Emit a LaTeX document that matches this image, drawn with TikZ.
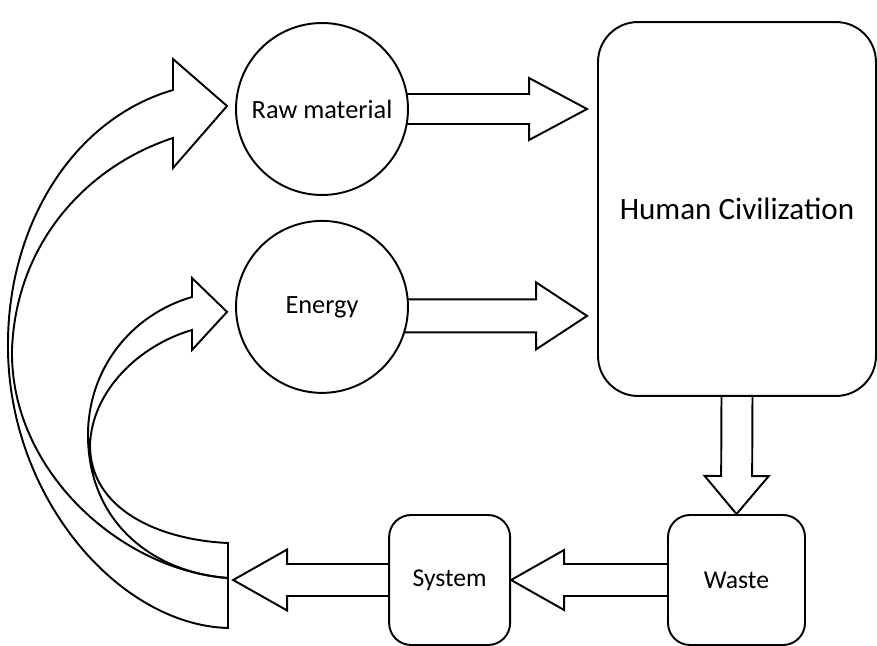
\documentclass[tikz,border=0pt]{standalone}
\usepackage{fontspec}
\setmainfont{Carlito}
\usetikzlibrary{calc, positioning, backgrounds}

% hollow block arrow: from, to, shaft half width, head half width, head length
\newcommand{\fatarrow}[5]{%
  \coordinate (fa-c) at ($(#2)!#5!(#1)$);
  \draw[fatline] ($(#1)!#3!90:(#2)$) -- ($(fa-c)!#3!-90:(#1)$)
    -- ($(fa-c)!#4!-90:(#1)$) -- (#2) -- ($(fa-c)!#4!90:(#1)$)
    -- ($(fa-c)!#3!90:(#1)$) -- ($(#1)!#3!-90:(#2)$);
}

\begin{document}
\begin{tikzpicture}[x=0.02cm,y=-0.02cm,line width=1.1pt,
    fatline/.style={draw=black,line width=1.1pt,line join=miter},
    round/.style={circle,draw,fill=white,minimum size=3.44cm,inner sep=0pt,font=\fontsize{15}{18}\selectfont},
    bigbox/.style={rectangle,draw,fill=white,rounded corners=0.8cm,minimum width=5.56cm,minimum height=7.48cm,font=\fontsize{17.7}{21}\selectfont},
    smallbox/.style={rectangle,draw,fill=white,rounded corners=0.44cm,minimum height=2.6cm,font=\fontsize{14.6}{17}\selectfont}]
    \useasboundingbox (0,0) rectangle (877,646);

    \node[round] (raw) at (322,109) {Raw material};
    \node[round] (energy) [below=0.48cm of raw] {Energy};
    \node[bigbox] (hc) at (737,209) {Human Civilization};
    \node[smallbox,minimum width=2.74cm] (waste) at (736.5,580) {Waste};
    \node[smallbox,minimum width=2.42cm] (system) [left=3.12cm of waste] {System};

    \coordinate (rawtip) at ($(raw.west)+(-8,-3)$);
    \coordinate (energytip) at ($(energy.west)+(-8,5)$);
    \coordinate (hcin1) at ($(raw.center -| hc.west)+(-10,0)$);
    \coordinate (hcin2) at ($(energy.center -| hc.west)+(-10,9)$);
    \coordinate (sysout) at ($(system.west)+(-155,0)$);

    \begin{scope}[on background layer]
    \fatarrow{raw.center}{hcin1}{0.3cm}{0.62cm}{1.16cm}
    \fatarrow{$(energy.center)+(0,9)$}{hcin2}{0.33cm}{0.67cm}{1.02cm}
    \end{scope}
    \fatarrow{hc.south}{waste.north}{0.31cm}{0.64cm}{0.76cm}
    \fatarrow{waste.west}{system.east}{0.32cm}{0.6cm}{1.06cm}
    \fatarrow{system.west}{sysout}{0.32cm}{0.61cm}{1.08cm}

    % curved return arrows
    \draw[fatline] (228,628) -- (228,578) .. controls (120,570) and (10,470) .. (12,350)
        .. controls (16,240) and (90,165) .. (173,138) -- (173,168) -- (rawtip)
        -- (173,59) -- (173,90) .. controls (70,120) and (6,230) .. (8,350)
        .. controls (10,500) and (120,625) .. (228,628) -- cycle;
    \draw[fatline] (228,578) -- (228,543) .. controls (160,540) and (90,510) .. (90,445)
        .. controls (92,390) and (140,345) .. (192,330) -- (192,350) -- (energytip)
        -- (192,278) -- (192,297) .. controls (130,315) and (88,370) .. (88,435)
        .. controls (88,520) and (150,572) .. (228,578);
\end{tikzpicture}
\end{document}
